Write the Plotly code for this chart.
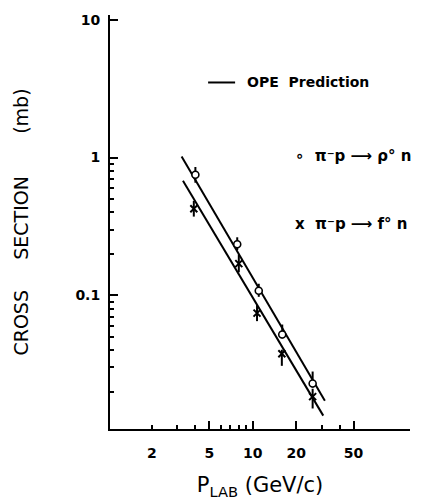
import plotly.graph_objects as go

# ---- data ----
rho_p = [4.0, 7.8, 11.0, 16.0, 26.0]
rho_sigma = [0.75, 0.235, 0.108, 0.052, 0.0229]
rho_err_plus = [0.105, 0.029, 0.0134, 0.0094, 0.0051]
rho_err_minus = [0.093, 0.022, 0.0104, 0.0033, 0.0015]

f_p = [3.9, 8.0, 10.7, 15.9, 26.0]
f_sigma = [0.425, 0.170, 0.0743, 0.0377, 0.0184]
f_err_plus = [0.060, 0.028, 0.0107, 0.0026, 0.0026]
f_err_minus = [0.052, 0.023, 0.0093, 0.0069, 0.0033]

ope_rho_p = [3.21, 31.6]
ope_rho_sigma = [1.017, 0.0172]
ope_f_p = [3.28, 30.8]
ope_f_sigma = [0.68, 0.0134]

x_label_vals = [2, 5, 10, 20, 50]
x_label_text = ["2", "5", "10", "20", "50"]
x_long_ticks = [5, 10, 20, 50]
x_short_ticks = [2, 3, 4, 6, 7, 8, 9, 30, 40]
y_major = [0.1, 1, 10]
y_major_text = ["0.1", "1", "10"]
y_minor = [0.02, 0.03, 0.04, 0.05, 0.06, 0.07, 0.08, 0.09,
           0.2, 0.3, 0.4, 0.5, 0.6, 0.7, 0.8, 0.9]

FONT = "DejaVu Sans"
X_RANGE = [0.01, 2.09]
Y_RANGE = [-1.97, 1.035]
NB = "\u00a0"

fig = go.Figure()

fig.add_trace(go.Scatter(x=ope_rho_p, y=ope_rho_sigma, mode="lines",
                         line=dict(color="black", width=2), showlegend=False))
fig.add_trace(go.Scatter(x=ope_f_p, y=ope_f_sigma, mode="lines",
                         line=dict(color="black", width=2), showlegend=False))

fig.add_trace(go.Scatter(
    x=rho_p, y=rho_sigma, mode="markers",
    marker=dict(symbol="circle", size=7, color="white",
                line=dict(color="black", width=1.6)),
    error_y=dict(type="data", array=rho_err_plus, arrayminus=rho_err_minus,
                 color="black", thickness=2, width=0),
    showlegend=False))
fig.add_trace(go.Scatter(
    x=f_p, y=f_sigma, mode="markers",
    marker=dict(symbol="x-thin", size=7, color="black",
                line=dict(color="black", width=2)),
    error_y=dict(type="data", array=f_err_plus, arrayminus=f_err_minus,
                 color="black", thickness=2, width=0),
    showlegend=False))

# helper trace for the long x ticks axis
fig.add_trace(go.Scatter(x=[None], y=[None], xaxis="x2", yaxis="y",
                         mode="markers", showlegend=False))

# The page body has an 8px margin, so the figure is sized to fit the window.
fig.update_layout(
    width=418, height=492,
    margin=dict(l=102, r=16, t=4, b=71),
    paper_bgcolor="white", plot_bgcolor="white",
    font=dict(family=FONT, color="black", size=14),
    xaxis=dict(
        type="log", range=X_RANGE,
        showgrid=False, zeroline=False,
        showline=True, linecolor="black", linewidth=2,
        tickmode="array", tickvals=x_label_vals, ticktext=x_label_text,
        ticks="", ticklabelstandoff=10,
        tickfont=dict(family=FONT, size=14, weight="bold"),
        minor=dict(tickmode="array", tickvals=x_short_ticks, ticks="inside",
                   ticklen=4, tickwidth=2, tickcolor="black", showgrid=False),
        title=dict(text="P<sub>LAB</sub> (GeV/c)", standoff=18,
                   font=dict(family=FONT, size=21)),
    ),
    xaxis2=dict(
        type="log", range=X_RANGE, overlaying="x", anchor="y", side="bottom",
        showgrid=False, zeroline=False, showline=False,
        tickmode="array", tickvals=x_long_ticks, ticks="inside",
        ticklen=8, tickwidth=2, tickcolor="black", showticklabels=False,
    ),
    yaxis=dict(
        type="log", range=Y_RANGE,
        showgrid=False, zeroline=False,
        showline=True, linecolor="black", linewidth=2,
        tickmode="array", tickvals=y_major, ticktext=y_major_text,
        ticks="inside", ticklen=8, tickwidth=2, tickcolor="black",
        ticklabelstandoff=5,
        tickfont=dict(family=FONT, size=14, weight="bold"),
        minor=dict(tickmode="array", tickvals=y_minor, ticks="inside",
                   ticklen=4, tickwidth=2, tickcolor="black", showgrid=False),
        title=dict(text="CROSS" + NB * 5 + "SECTION" + NB * 7 + "(mb)",
                   standoff=42, font=dict(family=FONT, size=19)),
    ),
)

# legend drawn as text
fig.add_shape(type="line", xref="paper", yref="paper",
              x0=0.327, x1=0.417, y0=0.837, y1=0.837,
              line=dict(color="black", width=2))
fig.add_annotation(xref="paper", yref="paper", x=0.45, y=0.837,
                   xanchor="left", yanchor="middle", showarrow=False,
                   text="OPE" + NB * 2 + "Prediction",
                   font=dict(family=FONT, size=14, weight="bold"))
fig.add_annotation(xref="paper", yref="paper", x=0.61, y=0.659,
                   xanchor="left", yanchor="middle", showarrow=False,
                   text="∘" + NB * 2 + "π⁻p ⟶ ρ° n",
                   font=dict(family=FONT, size=15, weight="bold"))
fig.add_annotation(xref="paper", yref="paper", x=0.61, y=0.494,
                   xanchor="left", yanchor="middle", showarrow=False,
                   text="x" + NB * 2 + "π⁻p ⟶ f° n",
                   font=dict(family=FONT, size=15, weight="bold"))

fig.write_html("out.html")
